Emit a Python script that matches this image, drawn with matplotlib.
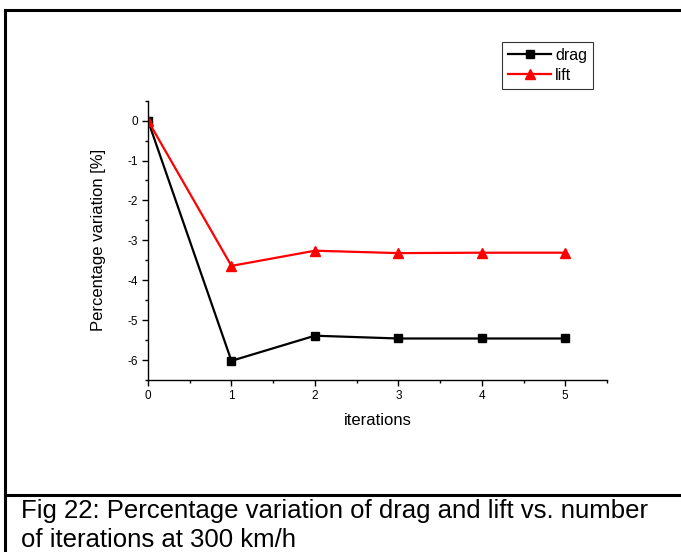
import matplotlib
matplotlib.use("Agg")
import matplotlib.pyplot as plt
from matplotlib.lines import Line2D
from matplotlib.ticker import MultipleLocator

plt.rcParams['font.family'] = ['Liberation Sans', 'DejaVu Sans']
plt.rcParams['axes.unicode_minus'] = False

# data
iterations = [0, 1, 2, 3, 4, 5]
drag = [0.0, -6.02, -5.39, -5.46, -5.46, -5.46]
lift = [0.0, -3.64, -3.26, -3.32, -3.31, -3.31]

caption_lines = ["Fig 22: Percentage variation of drag and lift vs. number",
                 "of iterations at 300 km/h"]

fig = plt.figure(figsize=(6.81, 5.52), dpi=100)
ax = fig.add_axes([0.2173, 0.3116, 0.674, 0.506])

ax.plot(iterations, drag, color='black', lw=1.6, marker='s', ms=5.5, label='drag')
ax.plot(iterations, lift, color='red', lw=1.6, marker='^', ms=6.5, label='lift')

ax.set_xlim(0, 5.5)
ax.set_ylim(-6.5, 0.5)
ax.xaxis.set_major_locator(MultipleLocator(1))
ax.xaxis.set_minor_locator(MultipleLocator(0.5))
ax.yaxis.set_major_locator(MultipleLocator(1))
ax.yaxis.set_minor_locator(MultipleLocator(0.5))
ax.spines['top'].set_visible(False)
ax.spines['right'].set_visible(False)
for s in ('left', 'bottom'):
    ax.spines[s].set_linewidth(1.0)
ax.tick_params(which='major', direction='out', length=4, width=1, labelsize=8.5, pad=3)
ax.tick_params(which='minor', direction='out', length=2.5, width=1)
ax.set_xlabel('iterations', fontsize=12, labelpad=8)
ax.set_ylabel('Percentage variation [%]', fontsize=12, labelpad=16)

leg = fig.legend(loc='upper left', bbox_to_anchor=(502 / 681, 1 - 42 / 552),
                 fontsize=11.5, frameon=True, fancybox=False, edgecolor='black',
                 handlelength=2.7, handletextpad=0.25, borderpad=0.38, labelspacing=0.3,
                 borderaxespad=0)
leg.get_frame().set_linewidth(0.8)

# outer frame and caption separator
fig.add_artist(Line2D([0.0073, 1.0], [0.982, 0.982], color='black', lw=2.2))
fig.add_artist(Line2D([0.0073, 0.0073], [0.0, 0.982], color='black', lw=2.2))
fig.add_artist(Line2D([0.0073, 1.0], [0.1033, 0.1033], color='black', lw=2.2))

for i, line in enumerate(caption_lines):
    fig.text(21 / 681, 1 - (518 + 29 * i) / 552, line, fontsize=18.5,
             va='baseline', ha='left')

fig.savefig('out.png', dpi=100)
